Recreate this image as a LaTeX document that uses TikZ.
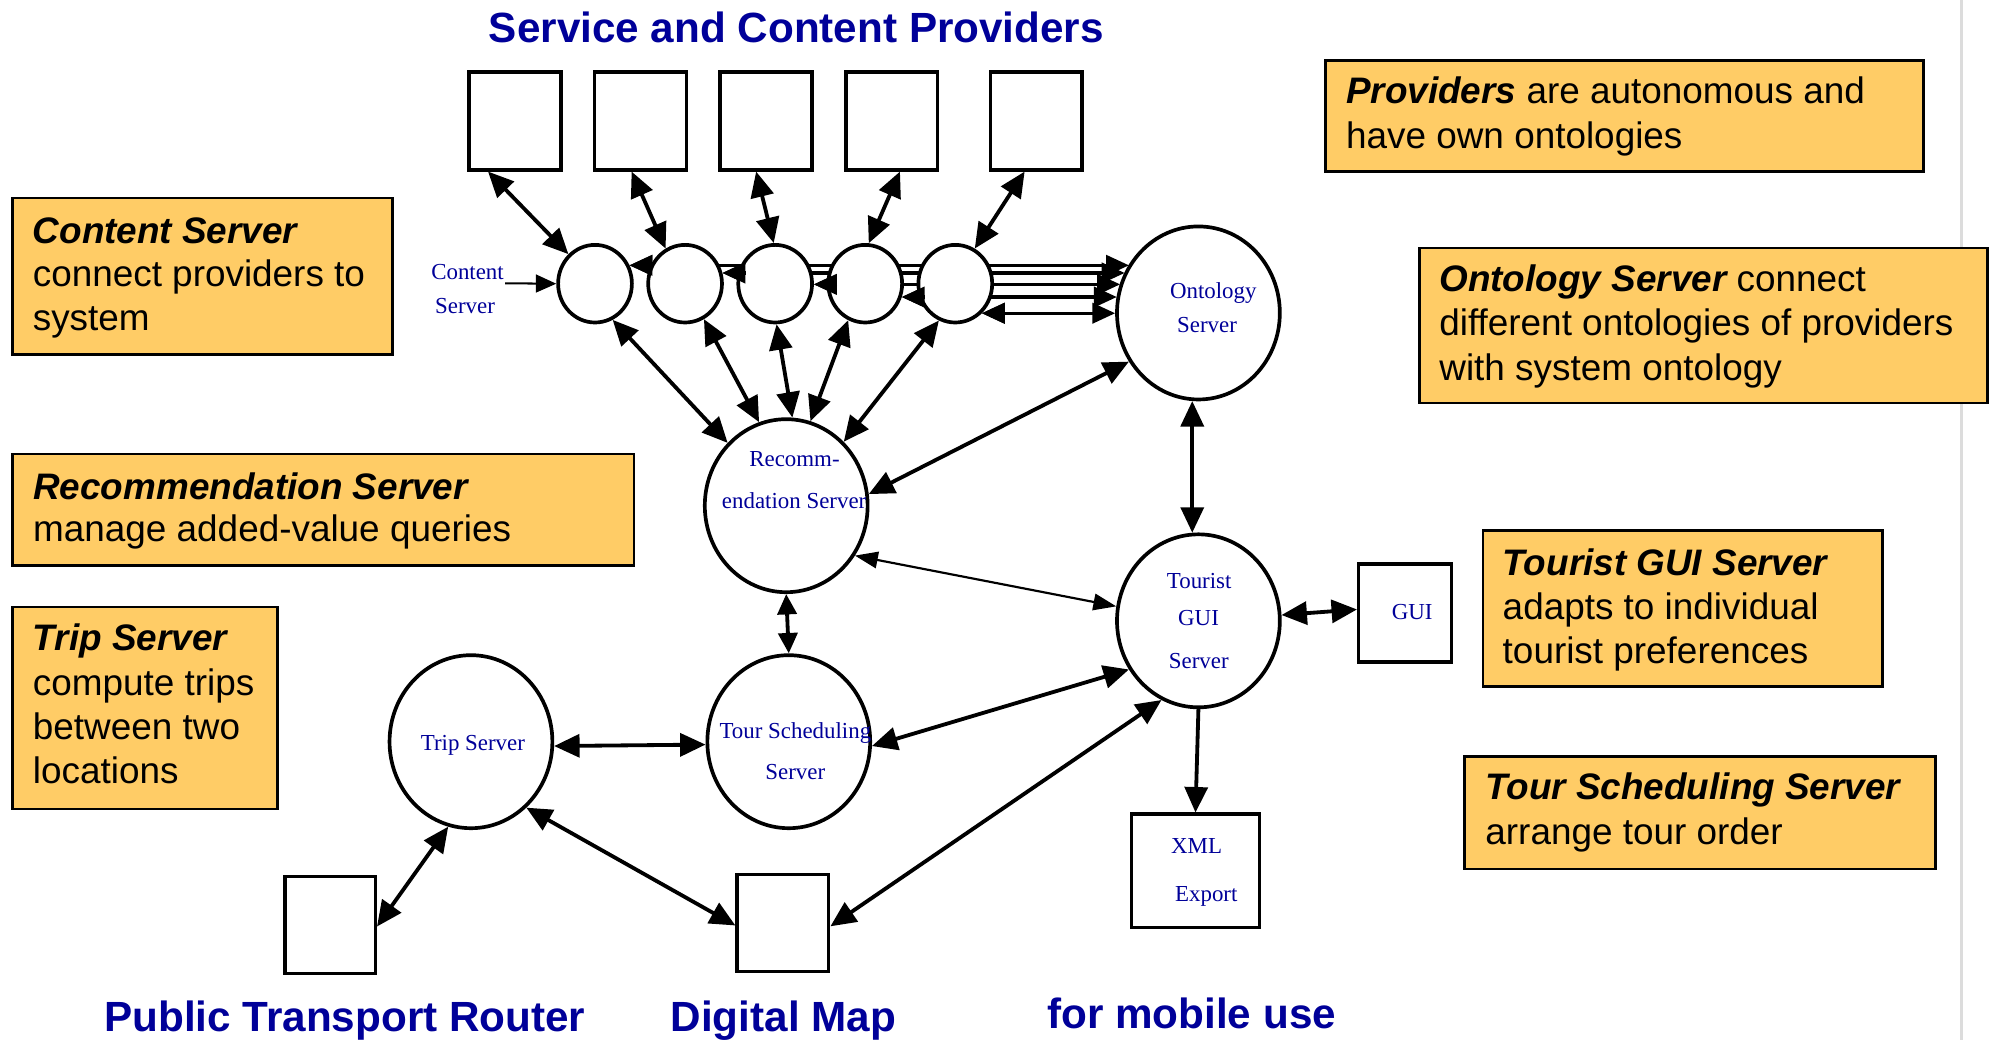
\documentclass[tikz,border=0pt]{standalone}
\usepackage{fontspec}
\setmainfont{Liberation Serif}
\setsansfont{Liberation Sans}
\usetikzlibrary{shapes.geometric,arrows.meta,calc}
\definecolor{navy}{RGB}{0,0,153}
\definecolor{notefill}{RGB}{255,204,102}
\definecolor{rule}{RGB}{220,220,220}
\pgfdeclarelayer{bg}
\pgfsetlayers{bg,main}
\begin{document}
\begin{tikzpicture}[x=0.5pt,y=-0.5pt,
  srv/.style={ellipse,draw,line width=1.45pt,fill=white,inner sep=0pt},
  smallsrv/.style={srv,minimum width=29pt,minimum height=30.5pt},
  bigsrv/.style={srv,minimum width=64pt,minimum height=68pt},
  sq/.style={rectangle,draw,line width=1.35pt,fill=white,inner sep=0pt,minimum width=36pt,minimum height=38.5pt},
  lbl/.style={anchor=base,inner sep=0pt,font=\fontsize{9}{10}\selectfont,text=navy},
  notebox/.style={rectangle,draw,line width=1.1pt,fill=notefill,inner sep=0pt,anchor=north west},
  ln/.style={anchor=base west,inner sep=0pt,font=\sffamily\fontsize{14.5}{17}\selectfont},
  bi/.style={font=\sffamily\bfseries\itshape\fontsize{14.5}{17}\selectfont},
  heading/.style={anchor=base,inner sep=0pt,font=\sffamily\bfseries\fontsize{16.6}{20}\selectfont,text=navy},
  link/.style={line width=1.5pt,{Triangle[length=10pt,width=9pt]}-{Triangle[length=10pt,width=9pt]}},
  shortlink/.style={line width=1.5pt,{Triangle[length=8pt,width=7.5pt]}-{Triangle[length=8pt,width=7.5pt]}},
  onelink/.style={line width=1.5pt,-{Triangle[length=10pt,width=9pt]}},
  thinlink/.style={line width=0.85pt,{Triangle[length=9pt,width=6.5pt]}-{Triangle[length=9pt,width=6.5pt]}},
  thinone/.style={line width=0.8pt,-{Triangle[length=8pt,width=7pt]}},
  hline/.style={line width=1.2pt,{Triangle[length=9pt,width=8pt]}-{Triangle[length=9pt,width=8pt]}},
  hhead/.style={line width=1.2pt,-{Triangle[length=9pt,width=8pt]}}
]
\useasboundingbox (0,0) rectangle (1565,817.5);
\begin{pgfonlayer}{bg}
\fill[white] (0,0) rectangle (1565,817.5);
\end{pgfonlayer}
\draw[rule,line width=1pt] (1542,0) -- (1542,817.5);

% ---------- yellow notes ----------
\node[notebox,minimum width=235.1pt,minimum height=43.5pt] (n1) at (1040.9,46.6) {};
\node[ln] (n1a) at (1057.7,81.2) {{\bfseries\itshape Providers} are autonomous and};
\node[ln] (n1b) at (1057.7,116.6) {have own ontologies};

\node[notebox,minimum width=149.35pt,minimum height=61.55pt] (n2) at (8.6,154.6) {};
\node[ln,bi] (n2a) at (25.4,191.3) {Content Server};
\node[ln] (n2b) at (25.4,225.3) {connect providers to};
\node[ln] (n2c) at (25.4,259.4) {system};

\node[notebox,minimum width=223.1pt,minimum height=60.9pt] (n3) at (1114.9,193.9) {};
\node[ln] (n3a) at (1131,229.2) {{\bfseries\itshape Ontology Server} connect};
\node[ln] (n3b) at (1131,264.1) {different ontologies of providers};
\node[ln] (n3c) at (1131,299.2) {with system ontology};

\node[notebox,minimum width=244.3pt,minimum height=43.75pt] (n4) at (8.7,355.8) {};
\node[ln,bi] (n4a) at (25.7,392.5) {Recommendation Server};
\node[ln] (n4b) at (25.7,425.8) {manage added-value queries};

\node[notebox,minimum width=104.1pt,minimum height=79.4pt] (n5) at (8.7,476) {};
\node[ln,bi] (n5a) at (25.5,511.7) {Trip Server};
\node[ln] (n5b) at (25.5,546.3) {compute trips};
\node[ln] (n5c) at (25.5,581.6) {between two};
\node[ln] (n5d) at (25.5,616.2) {locations};

\node[notebox,minimum width=156.95pt,minimum height=61.3pt] (n6) at (1164.6,415.8) {};
\node[ln,bi] (n6a) at (1180.8,452) {Tourist GUI Server};
\node[ln] (n6b) at (1180.8,486.8) {adapts to individual};
\node[ln] (n6c) at (1180.8,521.9) {tourist preferences};

\node[notebox,minimum width=184.95pt,minimum height=44.3pt] (n7) at (1150.2,593.4) {};
\node[ln,bi] (n7a) at (1167.2,628.8) {Tour Scheduling Server};
\node[ln] (n7b) at (1167.2,664.2) {arrange tour order};

% ---------- headings ----------
\node[heading] (h1) at (626,33.5) {Service and Content Providers};
\node[heading] (h2) at (271,810.9) {Public Transport Router};
\node[heading] (h3) at (615.7,810.9) {Digital Map};
\node[heading] (h4) at (936.7,808.3) {for mobile use};

% ---------- boxes ----------
\node[sq] (P1) at (404.8,95) {};
\node[sq] (P2) at (503.5,95) {};
\node[sq] (P3) at (602.1,95) {};
\node[sq] (P4) at (701.1,95) {};
\node[sq] (P5) at (814.6,95) {};
\node[sq,minimum height=38.25pt] (DM) at (615.4,725.5) {};
\node[sq,minimum width=35.5pt,minimum height=38pt] (PT) at (259.5,727) {};
\node[sq,minimum width=50.5pt,minimum height=44.5pt] (X) at (939.7,684.5) {};
\node[sq,minimum width=36.5pt] (G) at (1104.5,481.7) {};

% ---------- servers ----------
\node[smallsrv] (C1) at (467.7,223) {};
\node[smallsrv] (C2) at (538.5,223) {};
\node[smallsrv] (C3) at (609.3,223) {};
\node[smallsrv] (C4) at (680.1,223) {};
\node[smallsrv] (C5) at (750.9,223) {};
\node[bigsrv] (O) at (942,246) {};
\node[bigsrv] (R) at (618,397.5) {};
\node[bigsrv] (T) at (942,488) {};
\node[bigsrv] (S) at (620,583) {};
\node[bigsrv] (TR) at (370.2,583) {};

% ---------- labels ----------
\node[lbl] (lc1) at (367.5,219.6) {Content};
\node[lbl] (lc2) at (365.5,246.3) {Server};
\node[lbl] (lo1) at (953.7,234.5) {Ontology};
\node[lbl] (lo2) at (948.8,261.2) {Server};
\node[lbl] (lr1) at (624.5,366.3) {Recomm-};
\node[lbl] (lr2) at (624.2,399.6) {endation Server};
\node[lbl] (lt1) at (942.6,462.4) {Tourist};
\node[lbl] (lt2) at (942.1,492) {GUI};
\node[lbl] (lt3) at (942.3,525.8) {Server};
\node[lbl] (lg) at (1110,486.8) {GUI};
\node[lbl] (lx1) at (940.6,671.2) {XML};
\node[lbl] (lx2) at (948.2,708.7) {Export};
\node[lbl] (ltr) at (371.7,590) {Trip Server};
\node[lbl] (ls1) at (625.2,580.3) {Tour Scheduling};
\node[lbl] (ls2) at (625.1,613.1) {Server};

% ---------- content servers to ontology (behind) ----------
\begin{pgfonlayer}{bg}
\draw[hline] (C1.28.5) -- (C1.28.5 -| O.145.4);
\draw[hline] (C2.16) -- (C2.16 -| O.151.5);
\draw[hline] (C3.359) -- (C3.359 -| O.159.1);
\draw[hline] (C4.340) -- (C4.340 -| O.168.3);
\draw[hline] (C5.312) -- (C5.312 -| O.179);
\end{pgfonlayer}
\coordinate (e1) at ($(C1.28.5)+(18.2,0)$);
\coordinate (e2) at ($(C2.16)+(18.2,0)$);
\coordinate (e3) at ($(C3.359)+(18.2,0)$);
\coordinate (e4) at ($(C4.340)+(18.2,0)$);
\coordinate (e5) at ($(C5.312)+(18.2,0)$);
\draw[hhead] (e1) -- (C1.28.5);
\draw[hhead] (e2) -- (C2.16);
\draw[hhead] (e3) -- (C3.359);
\draw[hhead] (e4) -- (C4.340);
\draw[hhead] (e5) -- (C5.312);

% ---------- connectors ----------
\coordinate (cst) at (397,222.7);
\draw[thinone] (cst) -- (C1.west);

\draw[link] (P1.242.4) -- (C1.132.6);
\draw[link] (P2.260.3) -- (C2.119);
\draw[link] (P3.259.8) -- (C3.92);
\draw[link] (P4.279.2) -- (C4.85);
\draw[link] (P5.257) -- (C5.61);

\draw[link] (C1.296.4) -- (R.133.1);
\draw[link] (C2.298) -- (R.108.5);
\draw[link] (C3.272) -- (R.86);
\draw[link] (C4.245) -- (R.74.6);
\draw[link] (C5.246) -- (R.48.8);

\draw[link] (R.8.7) -- (O.215.9);
\draw[link] (O.266) -- (T.94);
\draw[thinlink] (R.324.1) -- (T.170.7);
\draw[shortlink] (R.south) -- (S.north);
\draw[link] (T.4.6) -- (G.176.7);
\draw[link] (S.357) -- (T.215.7);
\draw[link] (TR.357.2) -- (S.182.9);
\draw[onelink] (T.south) -- (X.north);
\draw[link] (TR.255.5) -- (PT.358);
\draw[link] (TR.310.7) -- (DM.183.6);
\draw[link] (DM.356.4) -- (T.245.1);
\end{tikzpicture}
\end{document}
